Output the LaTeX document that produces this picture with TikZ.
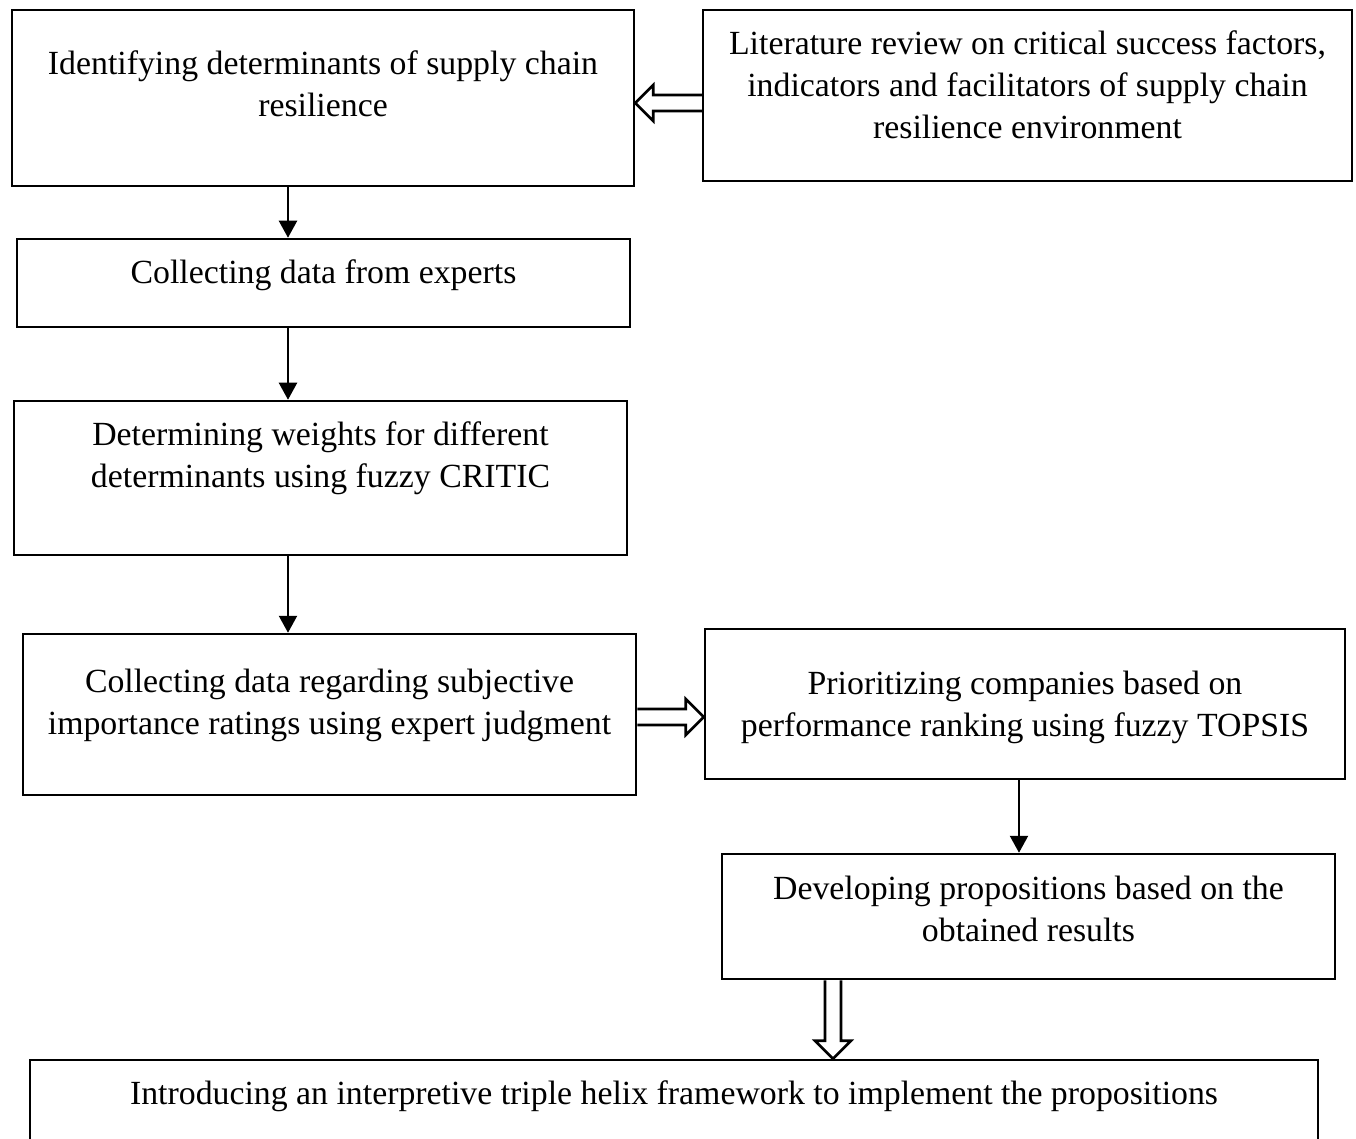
\documentclass[tikz,border=0pt]{standalone}
\usepackage{fontspec}
\setmainfont{Liberation Serif}
\usetikzlibrary{calc,arrows.meta}

\tikzset{
  box/.style={draw, line width=1.25pt, align=center, inner sep=0pt},
  flow/.style={line width=1.15pt, -{Triangle[length=8.5pt,width=9pt]}},
  hollow/.style={line width=1.3pt, line join=miter, to path={
      ($(\tikztostart)!4pt!90:(\tikztotarget)$)
      -- ($(\tikztotarget)!9pt!(\tikztostart)!4pt!-90:(\tikztostart)$)
      -- ($(\tikztotarget)!9pt!(\tikztostart)!9pt!-90:(\tikztostart)$)
      -- (\tikztotarget)
      -- ($(\tikztotarget)!9pt!(\tikztostart)!9pt!90:(\tikztostart)$)
      -- ($(\tikztotarget)!9pt!(\tikztostart)!4pt!90:(\tikztostart)$)
      -- ($(\tikztostart)!4pt!-90:(\tikztotarget)$)}}
}

\begin{document}
\begin{tikzpicture}[x=0.5pt, y=-0.5pt, font=\fontsize{16.9}{21}\selectfont]
  \useasboundingbox (0,0) rectangle (1356,1139);
  \clip (0,0) rectangle (1356,1139);

  % boxes of the left column
  \node[box, minimum width=311pt, minimum height=88pt, text depth=14.5pt] (ident) at (323,98)
    {Identifying determinants of supply chain\\resilience};
  \node[box, minimum width=306.5pt, minimum height=44pt, text depth=11pt] (collect) at (323.5,283)
    {Collecting data from experts};
  \node[box, minimum width=306.5pt, minimum height=77pt, text depth=23pt] (weights) at (320.5,478)
    {Determining weights for different\\determinants using fuzzy CRITIC};
  \node[box, minimum width=306.5pt, minimum height=80.5pt, text depth=12.5pt] (judge) at (329.5,714.5)
    {Collecting data regarding subjective\\importance ratings using expert judgment};

  % boxes of the right column
  \node[box, minimum width=324.5pt, minimum height=85.5pt, text depth=11pt] (lit) at (1027.5,95.5)
    {Literature review on critical success factors,\\indicators and facilitators of supply chain\\resilience environment};
  \node[box, minimum width=320pt, minimum height=75pt, text depth=0pt] (topsis) at (1025,704)
    {Prioritizing companies based on\\performance ranking using fuzzy TOPSIS};
  \node[box, minimum width=306.5pt, minimum height=62.5pt, text depth=7.5pt] (props) at (1028.5,916.5)
    {Developing propositions based on the\\obtained results};

  % bottom box
  \node[box, minimum width=644pt, minimum height=50pt, text depth=17pt] (helix) at (674,1110)
    {Introducing an interpretive triple helix framework to implement the propositions};

  % rows and columns of the connectors
  \coordinate (c1) at (288,0);
  \coordinate (c2) at (1019,0);
  \coordinate (c3) at (833,0);
  \coordinate (r1) at (0,103);
  \coordinate (r2) at (0,717);

  \draw[flow] (ident.south -| c1) -- (collect.north -| c1);
  \draw[flow] (collect.south -| c1) -- (weights.north -| c1);
  \draw[flow] (weights.south -| c1) -- (judge.north -| c1);
  \draw[flow] (topsis.south -| c2) -- (props.north -| c2);

  \coordinate (litout) at (lit.west |- r1);
  \coordinate (identin) at (ident.east |- r1);
  \coordinate (judgeout) at (judge.east |- r2);
  \coordinate (topsisin) at (topsis.west |- r2);
  \coordinate (propsout) at (props.south -| c3);
  \coordinate (helixin) at (helix.north -| c3);

  \draw[hollow] (litout) to (identin);
  \draw[hollow] (judgeout) to (topsisin);
  \draw[hollow] (propsout) to (helixin);
\end{tikzpicture}
\end{document}
